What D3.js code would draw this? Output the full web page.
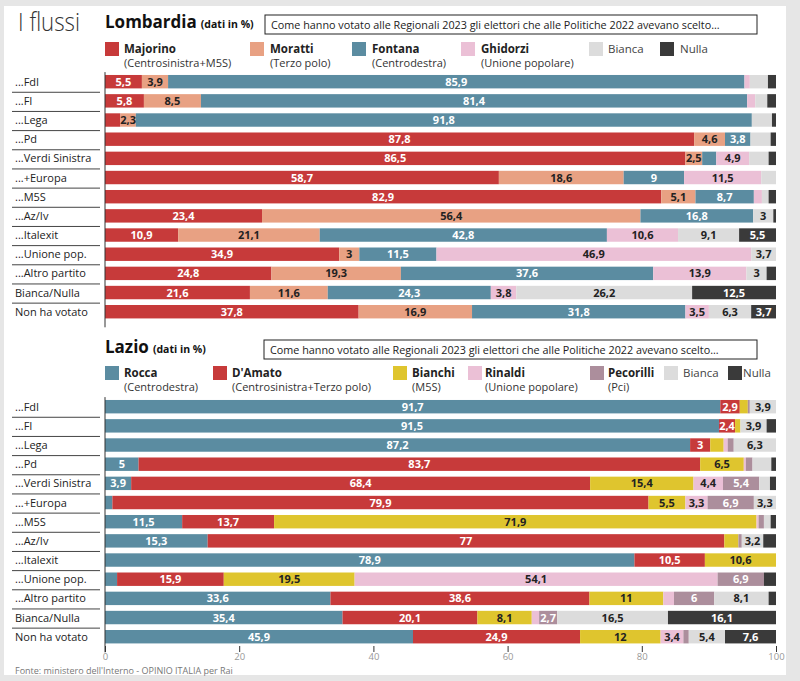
<!DOCTYPE html>
<html><head><meta charset="utf-8">
<script src="https://cdn.jsdelivr.net/npm/d3@7"></script>
<style>body{margin:0;background:#fff} text{font-family:"Open Sans",sans-serif}</style>
</head><body><svg id="c" width="800" height="681"></svg>
<script>
// ---------- DATA ----------
const categories = ["...FdI","...FI","...Lega","...Pd","...Verdi Sinistra","...+Europa","...M5S","...Az/Iv","...Italexit","...Unione pop.","...Altro partito","Bianca/Nulla","Non ha votato"];
const ticks = [0,20,40,60,80,100];

// Lombardia
const lomNames = ["Majorino","Moratti","Fontana","Ghidorzi","Bianca","Nulla"];
const lomSubs  = ["(Centrosinistra+M5S)","(Terzo polo)","(Centrodestra)","(Unione popolare)","",""];
const majorino = [5.5,5.8,2.3,87.8,86.5,58.7,82.9,23.4,10.9,34.9,24.8,21.6,37.8];
const moratti  = [3.9,8.5,2.3,4.6,2.5,18.6,5.1,56.4,21.1,3,19.3,11.6,16.9];
const fontana  = [85.9,81.4,91.8,3.8,2.1,9,8.7,16.8,42.8,11.5,37.6,24.3,31.8];
const ghidorzi = [0.8,1.2,0,0,4.9,11.5,1.2,0,10.6,46.9,13.9,3.8,3.5];
const lomBianca = [2.7,1.8,3.0,3.0,2.9,2.2,1.0,3,9.1,3.7,3,26.2,6.3];
const lomNulla  = [1.2,1.3,0.6,0.8,1.1,0,1.1,0.4,5.5,0,1.4,12.5,3.7];
// which values carry a printed label (1) per row, series order
const lomLabelled = ["111000","111000","011000","111000","110100","111100","111000","111010","111111","111110","111110","111111","111111"];

// Lazio
const lazNames = ["Rocca","D'Amato","Bianchi","Rinaldi","Pecorilli","Bianca","Nulla"];
const lazSubs  = ["(Centrodestra)","(Centrosinistra+Terzo polo)","(M5S)","(Unione popolare)","(Pci)","",""];
const rocca     = [91.7,91.5,87.2,5,3.9,1.1,11.5,15.3,78.9,1.8,33.6,35.4,45.9];
const damato    = [2.9,2.4,3,83.7,68.4,79.9,13.7,77,10.5,15.9,38.6,20.1,24.9];
const bianchi   = [1.2,0.8,2.0,6.5,15.4,5.5,71.9,2.1,10.6,19.5,11,8.1,12];
const rinaldi   = [0,0,0.6,0.3,4.4,3.3,0.3,0,0,54.1,1.6,1.1,3.4];
const pecorilli = [0.3,0,0.9,1.0,5.4,6.9,0.8,0.5,0,6.9,6,2.7,0.8];
const lazBianca = [3.9,3.9,6.3,2.8,1.6,3.3,1.0,3.2,0,0,8.1,16.5,5.4];
const lazNulla  = [0,1.4,0,0.7,0.9,0,0.8,1.9,0,1.8,1.1,16.1,7.6];
const lazLabelled = ["1100010","1100010","1100010","1110000","1111100","0111110","1110000","1100010","1110000","0111100","1110110","1110111","1111011"];

const titleText = "I flussi";
const boxText = "Come hanno votato alle Regionali 2023 gli elettori che alle Politiche 2022 avevano scelto...";
const sourceText = "Fonte:  ministero dell'Interno - OPINIO ITALIA per Rai";

// ---------- STYLE ----------
const C = {red:"#c73a3a", salmon:"#e8a183", blue:"#5b8ca1", pink:"#ebc0d6", lgray:"#dcdcdc", dark:"#3a3a3a", yellow:"#dfc52e", mauve:"#ac8e9c"};
const lomColors = [C.red,C.salmon,C.blue,C.pink,C.lgray,C.dark];
const lomText   = ["#fff","#222","#fff","#222","#222","#fff"];
const lazColors = [C.blue,C.red,C.yellow,C.pink,C.mauve,C.lgray,C.dark];
const lazText   = ["#fff","#fff","#222","#222","#fff","#222","#fff"];

const svg = d3.select("#c");
svg.append("rect").attr("width",800).attr("height",681).attr("fill","#e6e6e6");
svg.append("rect").attr("x",4).attr("y",6).attr("width",782).attr("height",669).attr("fill","#fff");

const x = d3.scaleLinear().domain([0,100]).range([105,776]);
const fmt = v => String(v).replace(".", ",");

svg.append("text").attr("x",18).attr("y",31).attr("font-size",25).attr("font-weight",300)
  .attr("fill","#333").attr("textLength",62).attr("lengthAdjust","spacingAndGlyphs").text(titleText);

function panel(o){
  const g = svg.append("g");
  // title
  const t = g.append("text").attr("x",105).attr("y",o.titleY).attr("fill","#111");
  t.append("tspan").attr("font-size",17).attr("font-weight",700).text(o.title);
  t.append("tspan").attr("font-size",10.5).attr("font-weight",700).attr("dx",4).text("(dati in %)");
  g.append("rect").attr("x",o.boxX).attr("y",o.titleY-13).attr("width",757-o.boxX).attr("height",19)
    .attr("fill","#fff").attr("stroke","#222").attr("stroke-width",1);
  g.append("text").attr("x",o.boxX+6).attr("y",o.titleY+1).attr("font-size",10.8).attr("fill","#222").text(boxText);
  // legend
  o.names.forEach((n,i)=>{
    g.append("rect").attr("x",o.legX[i]).attr("y",o.legY-11).attr("width",14).attr("height",14).attr("fill",o.colors[i]);
    const bold = o.subs[i] !== "";
    g.append("text").attr("x",o.legTX[i]).attr("y",o.legY).attr("font-size",11.5)
      .attr("font-weight",bold?700:400).attr("fill",bold?"#222":"#444").text(n);
    if (bold) g.append("text").attr("x",o.legTX[i]).attr("y",o.legY+14).attr("font-size",11).attr("fill","#333").text(o.subs[i]);
  });
  // bars
  const y = d3.scaleBand().domain(categories).range(o.yRange).paddingInner(0.3).paddingOuter(0.15);
  const rows = categories.map((c,r)=>{
    let acc = 0;
    return o.series.map((s,k)=>{ const v=s[r]; const d={cat:c,k,v,x0:acc,x1:acc+v,show:o.labelled[r][k]==="1"}; acc+=v; return d;});
  });
  const segs = rows.flat().filter(d=>d.v>0);
  g.selectAll("rect.seg").data(segs).join("rect").attr("class","seg")
    .attr("x",d=>x(d.x0)).attr("width",d=>x(d.x1)-x(d.x0))
    .attr("y",d=>y(d.cat)).attr("height",y.bandwidth()).attr("fill",d=>o.colors[d.k]);
  g.selectAll("text.val").data(segs.filter(d=>d.show)).join("text").attr("class","val")
    .attr("x",d=>(x(d.x0)+x(d.x1))/2).attr("y",d=>y(d.cat)+y.bandwidth()/2+4)
    .attr("text-anchor","middle").attr("font-size",11).attr("font-weight",700)
    .attr("fill",d=>o.textColors[d.k]).text(d=>fmt(d.v));
  // category labels
  const step = y.step();
  g.selectAll("text.cat").data(categories).join("text").attr("class","cat")
    .attr("x",15).attr("y",d=>y(d)+y.bandwidth()/2+4).attr("font-size",11).attr("fill","#222").text(d=>d);
  g.selectAll("line.sep").data(categories.slice(0,-1)).join("line").attr("class","sep")
    .attr("x1",12).attr("x2",100).attr("y1",d=>y(d)+y.bandwidth()+(step-y.bandwidth())/2+1)
    .attr("y2",d=>y(d)+y.bandwidth()+(step-y.bandwidth())/2+1).attr("stroke","#444").attr("stroke-width",1);
  // baseline
  g.append("line").attr("x1",x(0)).attr("x2",x(0)).attr("y1",o.yRange[0]).attr("y2",o.yRange[1]+6)
    .attr("stroke","#333").attr("stroke-width",1);
  return y;
}

panel({title:"Lombardia", titleY:28, boxX:265, names:lomNames, subs:lomSubs, colors:lomColors, textColors:lomText,
  legY:53, legX:[105,250,352,461,589,660], legTX:[124,270,372,481,608,680],
  series:[majorino,moratti,fontana,ghidorzi,lomBianca,lomNulla], labelled:lomLabelled, yRange:[72.1,321.3]});

panel({title:"Lazio", titleY:353, boxX:264, names:lazNames, subs:lazSubs, colors:lazColors, textColors:lazText,
  legY:377, legX:[105,213,393,468,590,664,728], legTX:[124,232,412,485,608,683,743],
  series:[rocca,damato,bianchi,rinaldi,pecorilli,lazBianca,lazNulla], labelled:lazLabelled, yRange:[397.1,646.3]});

// axis
const ax = svg.append("g").attr("transform","translate(0,646)")
  .call(d3.axisBottom(x).tickValues(ticks).tickSize(6).tickPadding(1));
ax.select(".domain").remove();
ax.selectAll(".tick line").attr("stroke","#333");
ax.selectAll(".tick text").attr("fill","#999").attr("font-size",9.5).attr("font-family","Open Sans");

svg.append("text").attr("x",15).attr("y",673.5).attr("font-size",9).attr("fill","#777").text(sourceText);
</script></body></html>
